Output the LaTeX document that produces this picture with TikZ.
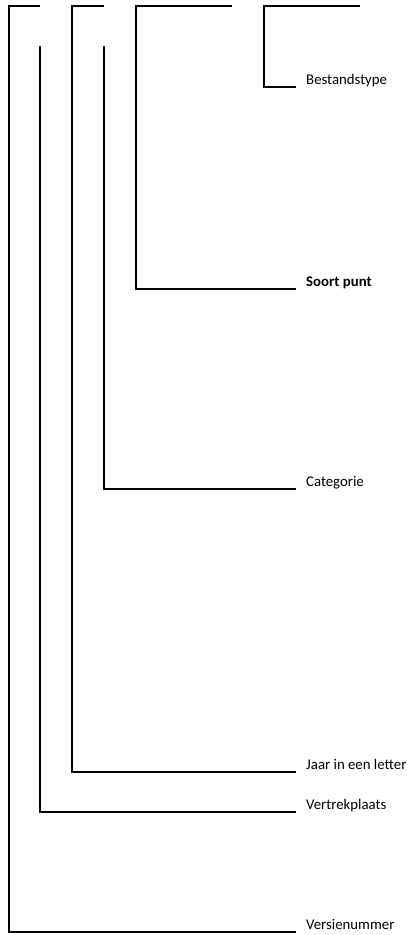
\documentclass[tikz,border=0pt]{standalone}
\usepackage{fontspec}
\setmainfont{Carlito}
\begin{document}
\begin{tikzpicture}[x=1pt,y=-1pt,
  wire/.style={line width=1.3pt, line join=miter},
  lbl/.style={anchor=base west, inner sep=0pt, font=\fontsize{14.8}{17}\selectfont}]
\useasboundingbox (0,0) rectangle (418,935);
% labels
\node[lbl] (bt) at (306,84) {Bestandstype};
\node[lbl, font=\fontsize{14.8}{17}\selectfont\bfseries] (sp) at (306,286) {Soort punt};
\node[lbl] (cat) at (306,486) {Categorie};
\node[lbl] (jaar) at (306,769) {Jaar in een letter};
\node[lbl] (vp) at (306,809) {Vertrekplaats};
\node[lbl] (vn) at (306,929) {Versienummer};
% line ends (left of labels)
\coordinate (ebt) at (296,87);
\coordinate (esp) at (296,289);
\coordinate (ecat) at (296,489);
\coordinate (ejaar) at (296,772);
\coordinate (evp) at (296,812);
\coordinate (evn) at (296,932);
% tops
\coordinate (t1) at (9,6);    \coordinate (t1e) at (40,6);
\coordinate (t2) at (72,6);   \coordinate (t2e) at (104,6);
\coordinate (t3) at (136,6);  \coordinate (t3e) at (232,6);
\coordinate (t4) at (264,6);  \coordinate (t4e) at (360,6);
\coordinate (s1) at (40,46);
\coordinate (s2) at (104,46);
% connectors
\draw[wire] (evn) -| (t1) -- (t1e);
\draw[wire] (ejaar) -| (t2) -- (t2e);
\draw[wire] (evp) -| (s1);
\draw[wire] (ecat) -| (s2);
\draw[wire] (esp) -| (t3) -- (t3e);
\draw[wire] (ebt) -| (t4) -- (t4e);
\end{tikzpicture}
\end{document}
